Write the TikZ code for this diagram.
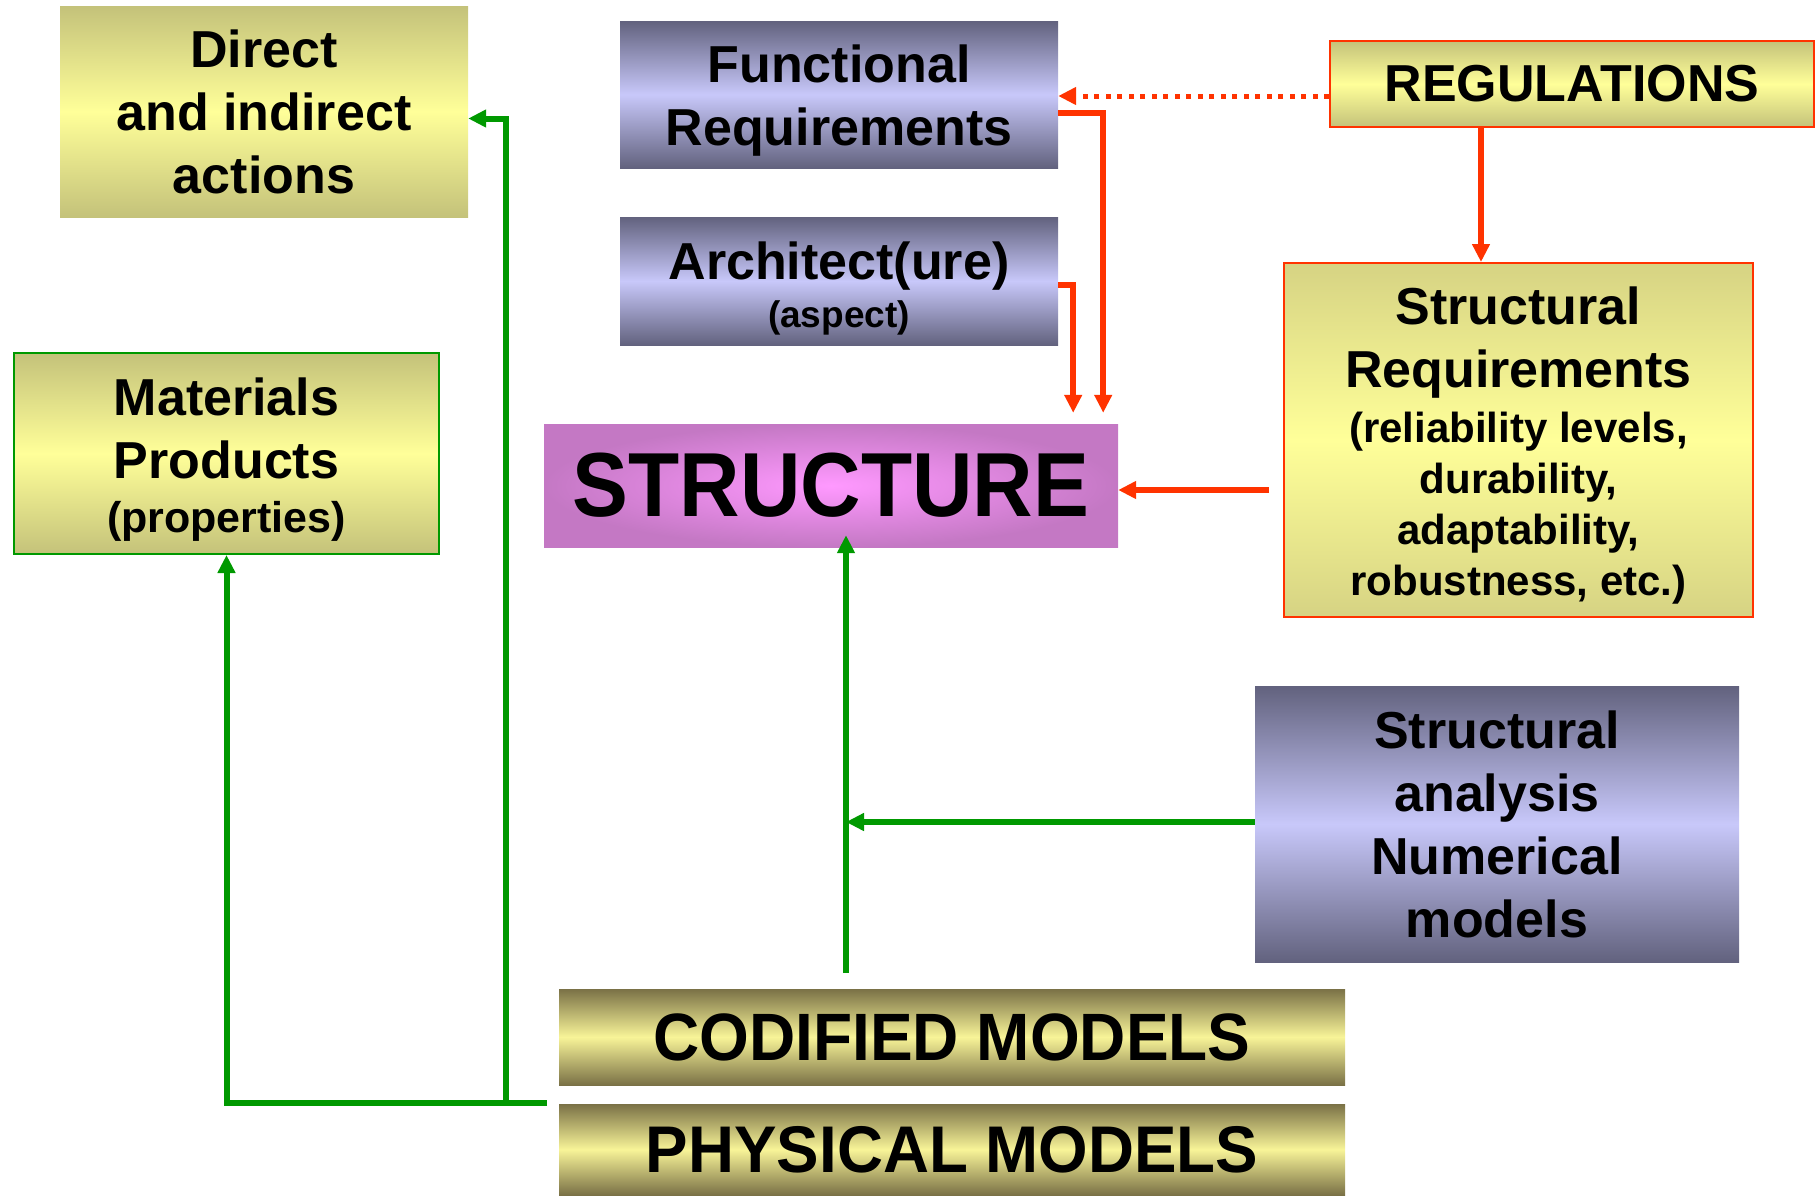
\documentclass[tikz,border=0pt]{standalone}
\usepackage{fontspec}
\usepackage{graphicx}
\setmainfont{Liberation Sans}
\usetikzlibrary{arrows.meta,shadings,calc}

\definecolor{olvD}{HTML}{C4C27A}
\definecolor{olvL}{HTML}{FFFF99}
\definecolor{olvRD}{HTML}{D6D383}
\definecolor{bluD}{HTML}{62627E}
\definecolor{bluL}{HTML}{C8C8FA}
\definecolor{brnD}{HTML}{7A7146}
\definecolor{brnL}{HTML}{F8F498}
\definecolor{pnkL}{HTML}{FF99FF}
\definecolor{pnkD}{HTML}{C478C4}
\definecolor{redln}{HTML}{FF3300}
\definecolor{grnln}{HTML}{009900}

% extra room above the first line of a box text
\newcommand\padtop[2]{\raisebox{0pt}[\dimexpr\height+#1\relax]{#2}}

\begin{document}
\begin{tikzpicture}[x=1pt,y=-1pt,
  box/.style={rectangle, inner sep=0pt, align=center, font=\bfseries},
  olive/.style={top color=olvD, bottom color=olvD, middle color=olvL},
  oliveR/.style={top color=olvRD, bottom color=olvRD, middle color=olvL},
  blue/.style={top color=bluD, bottom color=bluD, middle color=bluL},
  brown/.style={top color=brnD, bottom color=brnD, middle color=brnL},
  big/.style={font=\bfseries\fontsize{52}{63}\selectfont},
  tip/.style={-{Triangle[length=18pt,width=17pt]}},
  redc/.style={draw=redln, line width=6pt, tip},
  grnc/.style={draw=grnln, line width=6pt, tip},
]
\useasboundingbox (0,0) rectangle (1816,1195);

% boxes
\node[box, olive, big, minimum width=408pt, minimum height=211pt] (direct) at (264,111.5)
  {Direct\\and indirect\\actions};
\node[box, olive, big, draw=grnln, line width=2pt, minimum width=425pt, minimum height=201pt] (mat) at (226.5,453.5)
  {\padtop{13pt}{Materials}\\Products\\[-9pt]{\fontsize{43}{50}\selectfont (properties)}};
\node[box, blue, big, minimum width=438pt, minimum height=147pt] (func) at (839,94.5)
  {\padtop{12pt}{Functional}\\Requirements};
\node[box, blue, big, minimum width=438pt, minimum height=128pt] (arch) at (839,281)
  {\padtop{15pt}{Architect(ure)}\\[-15pt]{\fontsize{37}{40}\selectfont (aspect)}};
\node[box, olive, big, draw=redln, line width=2pt, minimum width=484pt, minimum height=86pt] (reg) at (1572,84)
  {REGULATIONS};
\node[box, oliveR, big, draw=redln, line width=2pt, minimum width=469pt, minimum height=354pt] (sreq) at (1518.5,440)
  {\padtop{12pt}{Structural}\\Requirements\\[-8pt]{\fontsize{42}{51}\selectfont (reliability levels,}\\[-12pt]
   {\fontsize{42}{51}\selectfont durability,}\\[-12pt]{\fontsize{42}{51}\selectfont adaptability,}\\[-12pt]
   {\fontsize{42}{51}\selectfont robustness, etc.)}};
\node[box, inner color=pnkL, outer color=pnkD, minimum width=574pt, minimum height=123pt,
  font=\bfseries\fontsize{91}{100}\selectfont] (struct) at (831,485.5)
  {\scalebox{0.92}[1]{STRUCTURE}};
\node[box, blue, big, minimum width=484pt, minimum height=276pt] (sana) at (1497,824)
  {Structural\\analysis\\Numerical\\models};
\node[box, brown, minimum width=786pt, minimum height=96pt,
  font=\bfseries\fontsize{67}{75}\selectfont] (cod) at (952,1037)
  {\scalebox{0.955}[1]{CODIFIED MODELS}};
\node[box, brown, minimum width=786pt, minimum height=91pt,
  font=\bfseries\fontsize{66}{75}\selectfont] (phys) at (952,1149.5)
  {\scalebox{0.965}[1]{PHYSICAL MODELS}};

% junction points of the model connectors
\coordinate (mj) at (547,1103);
\coordinate (gj) at (506,1103);
\coordinate (cup) at (846,973);

% green connectors
\draw[grnc] (mj) -| (mat.south);
\draw[grnc] (gj) |- ([yshift=-7pt]direct.east);
\draw[grnc, shorten >=-12pt] (cup) -- (cup |- struct.south);
\draw[grnc] ([yshift=2pt]sana.west) -- ([yshift=2pt]sana.west -| cup);

% red connectors
\draw[redc, line width=5pt, dash pattern=on 5pt off 6.5pt] ([yshift=-12pt]reg.west) -- ([yshift=-12pt]reg.west -| func.east);
\draw[redc] ([xshift=-91pt]reg.south) -- ([xshift=-91pt]reg.south |- sreq.north);
\draw[redc] ([yshift=-18pt]func.east) -| ([xshift=-15pt,yshift=11pt]struct.north east);
\draw[redc] ([yshift=-4pt]arch.east) -| ([xshift=-45pt,yshift=11pt]struct.north east);
\draw[redc] ($(sreq.west |- struct.east)+(-14,4.5)$) -- ($(struct.east)+(0,4.5)$);
\end{tikzpicture}
\end{document}
